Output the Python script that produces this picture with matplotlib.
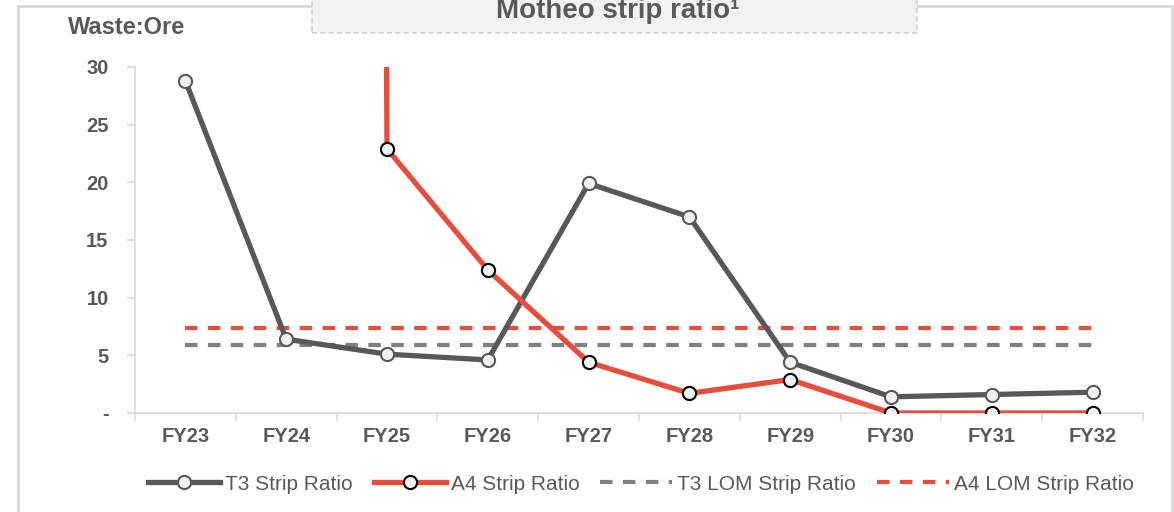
import numpy as np
import matplotlib as mpl
import matplotlib.pyplot as plt
from matplotlib.patches import Rectangle

mpl.rcParams['font.family'] = ['Liberation Sans', 'DejaVu Sans']

# data
years = ['FY23', 'FY24', 'FY25', 'FY26', 'FY27', 'FY28', 'FY29', 'FY30', 'FY31', 'FY32']
t3_ratio = [28.8, 6.4, 5.1, 4.6, 19.9, 17.0, 4.4, 1.4, 1.6, 1.8]
a4_ratio = [np.nan, 1500.0, 22.9, 12.4, 4.4, 1.7, 2.9, 0.0, 0.0, 0.0]
t3_lom = 5.9
a4_lom = 7.4
y_ticks = [0, 5, 10, 15, 20, 25, 30]
y_labels = ['-', '5', '10', '15', '20', '25', '30']

dark = '#58585b'
red = '#e84c3d'
lgray = '#d9d9d9'
txt = '#595959'

fig = plt.figure(figsize=(11.74, 5.12), dpi=100)
ax = fig.add_axes([0.115, 0.1934, 0.8586, 0.6758])

x = np.arange(len(years))
ax.plot(x, t3_ratio, color=dark, lw=3.8, marker='o', ms=9.5,
        mfc='#f0f0f0', mec=dark, mew=1.5, label='T3 Strip Ratio', zorder=4)
ax.plot(x, a4_ratio, color=red, lw=3.8, marker='o', ms=9.5,
        mfc='#f0f0f0', mec='black', mew=1.5, label='A4 Strip Ratio', zorder=5)
ax.plot(x, [t3_lom] * len(x), color='#7f7f7f', lw=3, ls=(0, (3, 2.5)),
        label='T3 LOM Strip Ratio', zorder=3)
ax.plot(x, [a4_lom] * len(x), color=red, lw=3, ls=(0, (3, 2.5)),
        label='A4 LOM Strip Ratio', zorder=3)

ax.set_xlim(-0.5, len(years) - 0.5)
ax.set_ylim(0, 30)
ax.set_yticks(y_ticks)
ax.set_yticklabels(y_labels)
ax.set_xticks(x)
ax.set_xticklabels(years)
ax.set_xticks(np.arange(-0.5, len(years)), minor=True)
ax.tick_params(axis='x', which='major', length=0, pad=10)
ax.tick_params(axis='x', which='minor', length=6, color=lgray, width=1.2, direction='out')
ax.tick_params(axis='y', length=6, color=lgray, width=1.2, pad=13)
for lab in ax.get_xticklabels() + ax.get_yticklabels():
    lab.set_fontweight('bold')
    lab.set_fontsize(14.5)
    lab.set_color(txt)

for s in ['top', 'right']:
    ax.spines[s].set_visible(False)
ax.spines['left'].set_color(lgray)
ax.spines['bottom'].set_color(lgray)
ax.spines['left'].set_linewidth(1.2)
ax.spines['bottom'].set_linewidth(1.2)

fig.text(68 / 1174, 1 - 28 / 512, 'Waste:Ore', fontsize=17, fontweight='bold',
         color=txt, va='center', ha='left')

# outer frame and title box
fig.patches.append(Rectangle((18 / 1174, -0.05), 1154 / 1174, 1.05 - 6 / 512,
                             transform=fig.transFigure, fill=False, ec=lgray, lw=2))
fig.patches.append(Rectangle((312 / 1174, 1 - 33 / 512), 605 / 1174, 40 / 512,
                             transform=fig.transFigure, fc='#f2f2f2', ec='#cfcfcf',
                             lw=1.2, ls=(0, (3, 2))))
fig.text(618 / 1174, 1 - 18 / 512, 'Motheo strip ratio\u00b9', fontsize=20, fontweight='bold',
         color=txt, ha='center', va='baseline')

leg = fig.legend(loc='center', bbox_to_anchor=(641 / 1174, 1 - 484 / 512), ncol=4, frameon=False,
                 fontsize=15, handlelength=3.45, columnspacing=1.0, handletextpad=0.25)
for t in leg.get_texts():
    t.set_color(txt)

fig.savefig('out.png', dpi=100)
